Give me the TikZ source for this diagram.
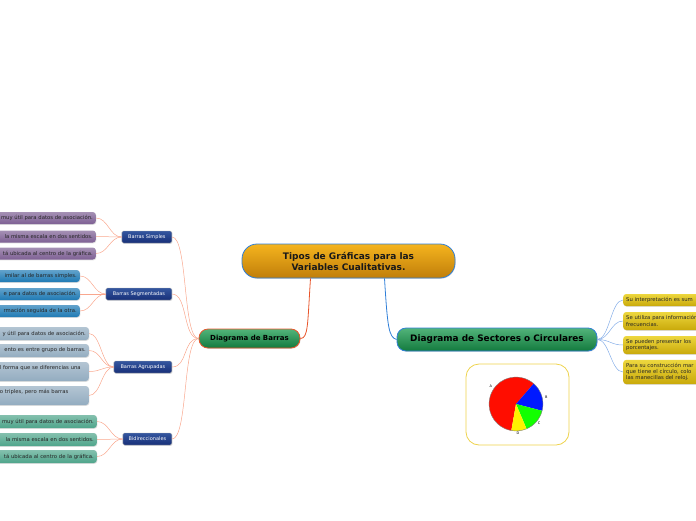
\documentclass[tikz,border=0pt]{standalone}
\usepackage{fontspec}
\setmainfont{DejaVu Sans}
\usetikzlibrary{shadows}

\definecolor{rootup}{HTML}{F5B41E}
\definecolor{rootdown}{HTML}{C07E0A}
\definecolor{greenup}{HTML}{52B47A}
\definecolor{greendown}{HTML}{137A3E}
\definecolor{blueline}{HTML}{2F7FD8}
\definecolor{redline}{HTML}{E8542A}
\definecolor{midup}{HTML}{34569F}
\definecolor{middown}{HTML}{172F78}
\definecolor{salmon}{HTML}{F9A78E}
\definecolor{skyline}{HTML}{86AEE8}
\definecolor{pieframe}{HTML}{EED34C}
\definecolor{simpcol}{HTML}{7E6094}
\definecolor{segmcol}{HTML}{1F7AB4}
\definecolor{agrcol}{HTML}{93ACC0}
\definecolor{bidcol}{HTML}{4FA58B}
\definecolor{notecol}{HTML}{C9A90A}
\definecolor{noteup}{HTML}{EDD73E}

\begin{document}
\begin{tikzpicture}[x=1pt,y=-1pt,
  shade/.style={drop shadow={opacity=0.25,shadow xshift=0.6pt,shadow yshift=-0.8pt}},
  root/.style={shade,draw=blueline,line width=0.8pt,top color=rootup,bottom color=rootdown,
    rounded corners=15pt,minimum width=213pt,minimum height=34pt,align=center,
    font=\fontsize{9}{11}\selectfont\bfseries,text=black!90},
  main/.style={shade,line width=0.8pt,top color=greenup,bottom color=greendown,
    rounded corners=9pt,font=\bfseries,text=black},
  mid/.style={shade,draw=gray!60,line width=0.3pt,top color=midup,bottom color=middown,
    rounded corners=1.5pt,minimum height=12pt,inner sep=1pt,anchor=east,
    font=\fontsize{5}{6}\selectfont,text=white},
  leaf/.style={shade,rounded corners=3pt,inner sep=3pt,text width=150pt,anchor=east,
    align=right,font=\fontsize{5.3}{6.4}\selectfont,text=black!85,
    top color=#1!70!white,bottom color=#1},
  rleaf/.style={shade,rounded corners=3pt,inner sep=3pt,text width=150pt,anchor=west,
    align=left,font=\fontsize{5.3}{6.4}\selectfont,text=black!85,
    top color=noteup,bottom color=notecol},
  barlink/.style={draw=salmon,line width=0.5pt},
  seclink/.style={draw=skyline,line width=0.5pt}]
  \useasboundingbox (0,0) rectangle (696,520);
  \clip (0,0) rectangle (696,520);

  % main topics
  \node[root] (root) at (348.5,261) {Tipos de Gráficas para las\\Variables Cualitativas.};
  \node[main,draw=redline,minimum width=101pt,minimum height=19pt,
    font=\fontsize{7}{8}\selectfont\bfseries] (barras) at (249.5,338.5) {Diagrama de Barras};
  \node[main,draw=blueline,minimum width=200pt,minimum height=23pt,
    font=\fontsize{8.9}{10}\selectfont\bfseries] (sectores) at (497,339.5) {Diagrama de Sectores o Circulares};

  % kinds of bar charts
  \node[mid,minimum width=50pt] (simples) at (172,237) {Barras Simples};
  \node[mid,minimum width=66pt] (segm) at (172,294) {Barras Segmentadas};
  \node[mid,minimum width=58pt] (agrup) at (172,367) {Barras Agrupadas};
  \node[mid,minimum width=49pt] (bidir) at (172,439) {Bidireccionales};

  \node[leaf=simpcol,minimum height=12pt] (s1) at (96,218) {muy útil para datos de asociación.};
  \node[leaf=simpcol,minimum height=12pt] (s2) at (96,236.5) {la misma escala en dos sentidos.};
  \node[leaf=simpcol,minimum height=12pt] (s3) at (96,253.5) {tá ubicada al centro de la gráfica.};

  \node[leaf=segmcol,minimum height=12pt] (g1) at (80,276) {imilar al de barras simples.};
  \node[leaf=segmcol,minimum height=12pt] (g2) at (80,294) {e para datos de asociación.};
  \node[leaf=segmcol,minimum height=12pt] (g3) at (80,311) {rmación seguida de la otra.};

  \node[leaf=agrcol,minimum height=13pt] (a1) at (89,333.5) {y útil para datos de asociación.};
  \node[leaf=agrcol,minimum height=13pt] (a2) at (89,350.5) {ento es entre grupo de barras.};
  \node[leaf=agrcol,minimum height=19pt,align=left] (a3) at (89,371.5)
    {\hspace*{64pt}l forma que se diferencias una\\\strut};
  \node[leaf=agrcol,minimum height=19pt,align=left] (a4) at (89,395.5)
    {\hspace*{64pt}o triples, pero más barras\\\strut};

  \node[leaf=bidcol,minimum height=13pt] (b1) at (97,421.5) {muy útil para datos de asociación.};
  \node[leaf=bidcol,minimum height=13pt] (b2) at (97,439.5) {la misma escala en dos sentidos.};
  \node[leaf=bidcol,minimum height=13pt] (b3) at (97,456.5) {tá ubicada al centro de la gráfica.};

  % pie chart notes
  \node[rleaf,minimum height=12pt] (r1) at (623,300) {Su interpretación es sum};
  \node[rleaf,minimum height=18pt] (r2) at (623,321) {Se utiliza para información\\frecuencias.};
  \node[rleaf,minimum height=18pt] (r3) at (623,345) {Se pueden presentar los\\porcentajes.};
  \node[rleaf,minimum height=24pt] (r4) at (623,372) {Para su construcción mar\\que tiene el círculo, colo\\las manecillas del reloj.};

  % connectors
  \draw[redline,line width=0.8pt] ([xshift=-38pt]root.south) .. controls +(-3,45) and +(8,0) .. (barras.east);
  \draw[blueline,line width=0.8pt] ([xshift=36pt]root.south) .. controls +(3,48) and +(-8,-2) .. (sectores.west);
  \foreach \t in {simples,segm,agrup,bidir}
    \draw[barlink] (barras.west) .. controls +(-16,0) and +(16,0) .. (\t.east);
  \foreach \p/\t in {simples/s1,simples/s2,simples/s3,segm/g1,segm/g2,segm/g3,
      agrup/a1,agrup/a2,agrup/a3,agrup/a4,bidir/b1,bidir/b2,bidir/b3}
    \draw[barlink] (\p.west) .. controls +(-12,0) and +(12,0) .. (\t.east);
  \foreach \t in {r1,r2,r3,r4}
    \draw[seclink] (sectores.east) .. controls +(12,0) and +(-12,0) .. (\t.west);

  % pie picture
  \draw[pieframe,line width=0.8pt,fill=white,rounded corners=13pt] (466,364) rectangle (569,445);
  \begin{scope}[shift={(516,404)},y=1pt]
    \fill[red!90!orange] (0,0) -- (49:27) arc (49:260:27) -- cycle;
    \fill[blue!90!cyan] (0,0) -- (-14.5:27) arc (-14.5:49:27) -- cycle;
    \fill[green!90!lime] (0,0) -- (-67:27) arc (-67:-14.5:27) -- cycle;
    \fill[yellow] (0,0) -- (-100:27) arc (-100:-67:27) -- cycle;
    \draw[gray,line width=0.4pt] (0,0) circle (27);
    \foreach \a/\l/\r in {144/A/31,13/B/31,-40/C/30,-86/D/29}
      \node[font=\fontsize{3.5}{4}\selectfont,inner sep=0pt] at (\a:\r) {\l};
  \end{scope}
\end{tikzpicture}
\end{document}
